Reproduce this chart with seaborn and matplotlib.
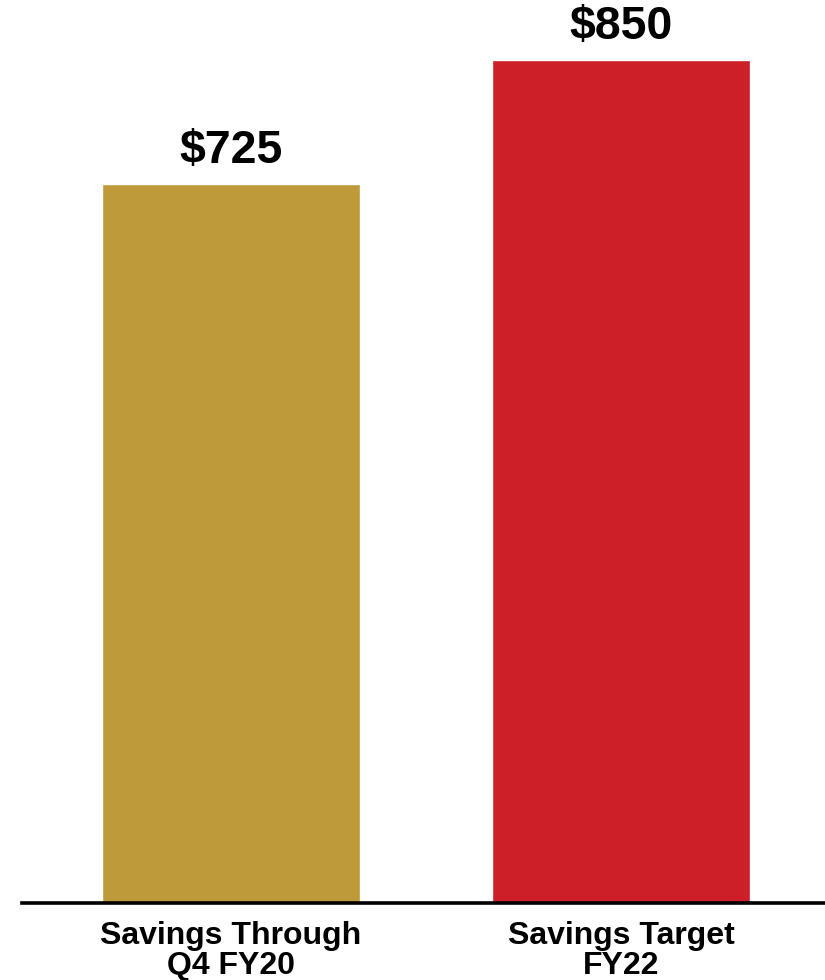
import matplotlib
matplotlib.use("Agg")
import matplotlib.pyplot as plt
import seaborn as sns
import pandas as pd

categories = ["Savings Through\nQ4 FY20", "Savings Target\nFY22"]
values = [725, 850]
value_labels = ["$725", "$850"]
colors = ["#BE9A3A", "#CC1F27"]

sns.set_style("white")
plt.rcParams['font.family'] = ['Liberation Sans', 'DejaVu Sans']

df = pd.DataFrame({"cat": categories, "val": values})

fig = plt.figure(figsize=(8.25, 9.8), dpi=100)
ax = fig.add_axes([22/825, 77/980, 1 - 22/825, 903/980])

sns.barplot(data=df, x="cat", y="val", hue="cat", palette=colors,
            width=0.66, legend=False, ax=ax, saturation=1)

ax.set_ylim(0, 911)
ax.set_xlim(-0.536, 1.523)

for p, lab in zip(ax.patches, value_labels):
    ax.annotate(lab, (p.get_x() + p.get_width() / 2, p.get_height()),
                xytext=(0, 8), textcoords="offset points",
                ha="center", va="bottom", fontsize=33.5, fontweight="bold",
                color="black")

for s in ["top", "right", "left"]:
    ax.spines[s].set_visible(False)
ax.spines["bottom"].set_linewidth(2.6)
ax.spines["bottom"].set_color("black")
ax.set_yticks([])
ax.set_xlabel("")
ax.set_ylabel("")
ax.tick_params(axis="x", length=0, pad=13, colors="black")
for t in ax.get_xticklabels():
    t.set_fontsize(23)
    t.set_fontweight("bold")
    t.set_color("black")
    t.set_linespacing(1.0)

fig.savefig("out.png", dpi=100)
